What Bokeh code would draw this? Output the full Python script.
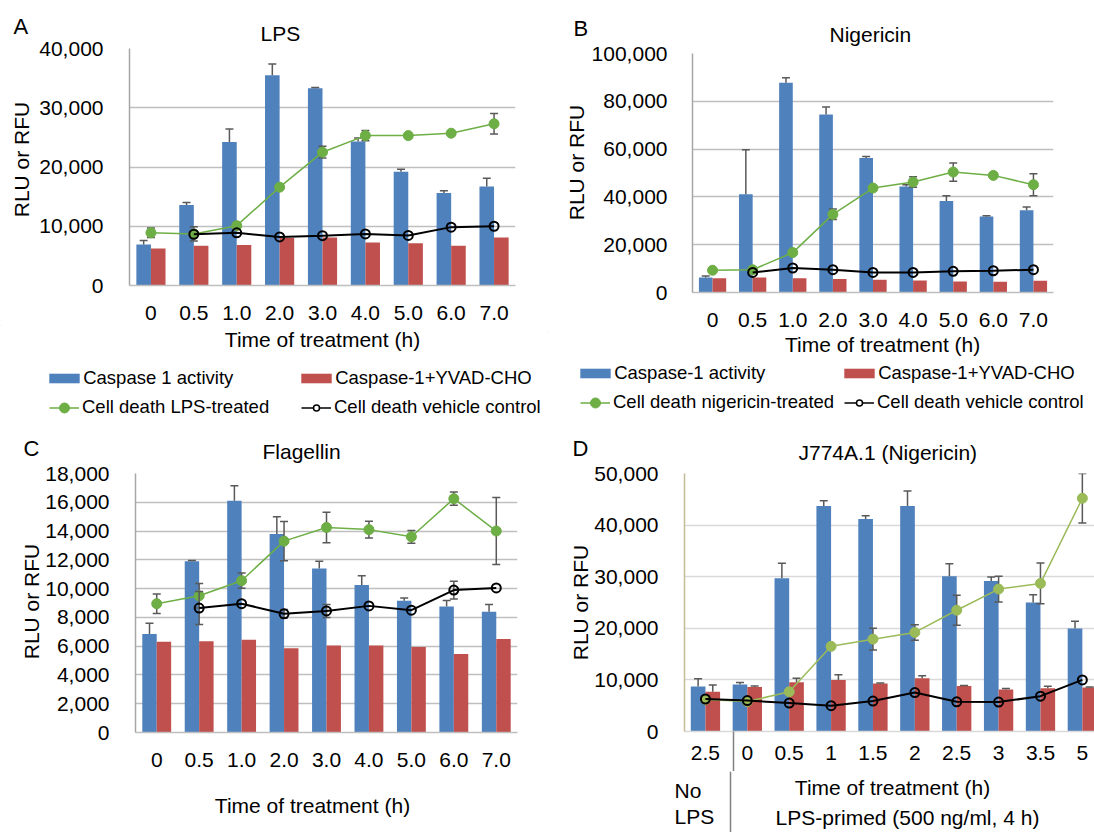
import math
import numpy as np
from bokeh.plotting import figure
from bokeh.models import (Legend, LegendItem, FixedTicker, NumeralTickFormatter, Range1d, Label)
from bokeh.layouts import row, column
from bokeh.embed import file_html
from bokeh.resources import INLINE

NAN = float("nan")
FONT = "Liberation Sans"
BLUE = "#4F81BD"
RED = "#C0504D"
GREEN = "#6DAE45"
GREEN_D = "#9BBB59"
ERR = "#595959"

# ---------------- Panel A: LPS ----------------
a_labels = ["0", "0.5", "1.0", "2.0", "3.0", "4.0", "5.0", "6.0", "7.0"]
a_casp = [6900, 13600, 24200, 35500, 33300, 24300, 19200, 15600, 16700]
a_casp_err = [700, 400, 2200, 1900, 100, 600, 400, 400, 1400]
a_yvad = [6250, 6700, 6850, 8000, 8100, 7250, 7150, 6700, 8100]
a_yvad_err = [0, 0, 0, 0, 0, 0, 0, 0, 0]
a_death = [8900, 8700, 10100, 16600, 22500, 25300, 25300, 25700, 27300]
a_death_err = [800, 1200, 300, 0, 1000, 850, 0, 0, 1750]
a_vehicle = [NAN, 8650, 8900, 8200, 8400, 8700, 8450, 9850, 10000]
a_vehicle_err = [0, 0, 0, 0, 0, 0, 0, 0, 0]

# ---------------- Panel B: Nigericin ----------------
b_labels = ["0", "0.5", "1.0", "2.0", "3.0", "4.0", "5.0", "6.0", "7.0"]
b_casp = [6300, 41100, 87800, 74500, 56300, 44300, 38300, 31800, 34400]
b_casp_err = [600, 18600, 2100, 3100, 600, 800, 2200, 300, 1400]
b_yvad = [6000, 6300, 6000, 5600, 5300, 5000, 4600, 4500, 4900]
b_yvad_err = [0, 0, 0, 0, 0, 0, 0, 0, 0]
b_death = [9300, 9500, 16700, 32700, 43700, 46200, 50400, 49000, 45100]
b_death_err = [0, 0, 0, 2200, 0, 2200, 3800, 0, 4600]
b_vehicle = [NAN, 8400, 10250, 9550, 8400, 8400, 8850, 9100, 9550]
b_vehicle_err = [0, 0, 0, 0, 0, 0, 0, 0, 0]

# ---------------- Panel C: Flagellin ----------------
c_labels = ["0", "0.5", "1.0", "2.0", "3.0", "4.0", "5.0", "6.0", "7.0"]
c_casp = [6850, 11900, 16100, 13800, 11400, 10250, 9150, 8750, 8400]
c_casp_err = [750, 50, 1050, 1200, 500, 650, 200, 420, 500]
c_yvad = [6300, 6350, 6450, 5850, 6050, 6050, 5950, 5450, 6500]
c_yvad_err = [0, 0, 0, 0, 0, 0, 0, 0, 0]
c_death = [8950, 9500, 10550, 13300, 14250, 14100, 13600, 16250, 14000]
c_death_err = [680, 850, 530, 1360, 1060, 590, 440, 460, 2330]
c_vehicle = [NAN, 8650, 8950, 8250, 8450, 8800, 8500, 9900, 10050]
c_vehicle_err = [0, 1150, 0, 300, 450, 0, 0, 620, 0]

# ---------------- Panel D: J774A.1 (Nigericin) ----------------
d_labels = ["2.5", "0", "0.5", "1", "1.5", "2", "2.5", "3", "3.5", "5"]
d_casp = [8700, 9100, 29700, 43700, 41200, 43700, 30100, 29150, 25000, 19950]
d_casp_err = [1500, 400, 2900, 1000, 600, 2900, 2400, 800, 1500, 1400]
d_yvad = [7700, 8600, 9550, 10000, 9300, 10300, 8800, 8150, 8400, 8550]
d_yvad_err = [1300, 200, 750, 1000, 100, 500, 100, 200, 350, 50]
d_death = [6200, 5800, 7700, 16500, 17900, 19200, 23500, 27600, 28700, 45200]
d_death_err = [0, 0, 0, 0, 2100, 1500, 2900, 2500, 3950, 4800]
d_vehicle = [6300, 6000, 5500, 5000, 5900, 7550, 5750, 5700, 6850, 10000]
d_vehicle_err = [0, 0, 0, 0, 0, 0, 0, 0, 0, 0]


def err_bars(p, xs, vals, errs, both=True, color=ERR):
    x, lo, hi = [], [], []
    for xi, v, e in zip(xs, vals, errs):
        if e and not math.isnan(v):
            x.append(float(xi))
            hi.append(v + e)
            lo.append(v - e if both else v)
    if not x:
        return
    p.segment(x0=x, y0=lo, x1=x, y1=hi, line_color=color, line_width=1.5)
    p.scatter(x=x, y=hi, marker="dash", size=8, line_color=color, line_width=1.5)
    if both:
        p.scatter(x=x, y=lo, marker="dash", size=8, line_color=color, line_width=1.5)


def set_title(f, text, offset, standoff, size):
    f.title.text = text
    f.title.align = "left"
    f.title.offset = offset
    f.title.standoff = standoff
    f.title.text_font = FONT
    f.title.text_font_size = size
    f.title.text_font_style = "normal"
    f.title.text_color = "black"


def textfig(x0, y0, w, h, top=0, bottom=0, title=None):
    """Figure whose data space is the page's pixel space (y downward)."""
    f = figure(width=w, height=h, x_range=Range1d(x0, x0 + w),
               y_range=Range1d(y0 + h - bottom, y0 + top),
               min_border_left=0, min_border_right=0, min_border_top=top, min_border_bottom=bottom,
               toolbar_location=None, output_backend="svg", x_axis_type=None, y_axis_type=None,
               title_location="above" if title else None)
    if title:
        text, tx, standoff = title
        set_title(f, text, tx - x0, standoff, "22px")
    f.outline_line_color = None
    f.background_fill_color = "white"
    f.border_fill_color = "white"
    return f


def txt(f, x, y, text, size="21px", align="center", baseline="middle", angle=0.0):
    f.add_layout(Label(x=x, y=y, text=text, text_font=FONT, text_font_size=size,
                       text_align=align, text_baseline=baseline, angle=angle, text_color="black"))


def legend_block(f, x0, y1, gcolor, labels, pos):
    """Four one-item legends in footer figure f (its swatch renderers sit outside the view)."""
    off = [-5000.0]
    rb = f.vbar(x=off, top=off, width=1, fill_color=BLUE, line_color=None)
    rr = f.vbar(x=off, top=off, width=1, fill_color=RED, line_color=None)
    gl = f.line(x=off, y=off, line_color=gcolor, line_width=1.5)
    gs = f.scatter(x=off, y=off, size=10, marker="circle", fill_color=gcolor, line_color=gcolor)
    kl = f.line(x=off, y=off, line_color="black", line_width=1.5)
    ks = f.scatter(x=off, y=off, size=8, marker="circle", fill_color="white", line_color="black", line_width=1.5)
    specs = [([rb], 38, 12, 0), ([rr], 38, 12, 0), ([gl, gs], 30, 25, 3), ([kl, ks], 30, 15, 3)]
    for (rends, gw, gh, so), text, (gx, gy) in zip(specs, labels, pos):
        H = max(gh, 22)
        L = Legend(items=[LegendItem(label=text, renderers=rends, index=0)],
                   location=(gx - x0, y1 - (gy + H / 2.0)),
                   orientation="vertical", glyph_width=gw, glyph_height=gh, label_height=22,
                   label_standoff=so, padding=0, margin=0, spacing=0,
                   border_line_color=None, background_fill_alpha=0,
                   label_text_font=FONT, label_text_font_size="18.5px", label_text_color="black")
        f.add_layout(L)


def plotfig(W, H, borders, labels, ymax, ystep, casp, casp_err, yvad, yvad_err,
            death, death_err, veh, veh_err, gcolor, xend, left_axis_color, grid_color,
            title, bw=0.34, minor=None, ystandoff=20):
    bl, br, bt, bb = borders
    n = len(labels)
    p = figure(width=W, height=H, output_backend="svg", toolbar_location=None, title_location="above",
               min_border_left=bl, min_border_right=br, min_border_top=bt, min_border_bottom=bb,
               x_range=Range1d(-0.5, xend), y_range=Range1d(0, ymax))
    text, offset, standoff = title
    set_title(p, text, offset, standoff, "21px")
    p.outline_line_color = None
    p.background_fill_color = "white"
    p.border_fill_color = "white"
    xs = np.arange(n)
    xb = xs - bw / 2
    xr = xs + bw / 2
    p.vbar(x=xb, top=casp, width=bw, fill_color=BLUE, line_color=None)
    p.vbar(x=xr, top=yvad, width=bw, fill_color=RED, line_color=None)
    err_bars(p, xb, casp, casp_err, both=False)
    err_bars(p, xr, yvad, yvad_err, both=False)
    err_bars(p, xs, death, death_err, both=True)
    p.line(xs, death, line_color=gcolor, line_width=1.5)
    p.scatter(xs, death, size=10, marker="circle", fill_color=gcolor, line_color=gcolor)
    err_bars(p, xs, veh, veh_err, both=True)
    p.line(xs, veh, line_color="black", line_width=2)
    p.scatter(xs, veh, size=9, marker="circle", fill_color=None, line_color="black", line_width=2)

    ticks_y = list(range(0, ymax + 1, ystep))
    p.xaxis.ticker = FixedTicker(ticks=list(range(n)), minor_ticks=minor or [])
    p.xaxis.major_label_overrides = {i: s for i, s in enumerate(labels)}
    p.yaxis.ticker = FixedTicker(ticks=ticks_y)
    p.yaxis.formatter = NumeralTickFormatter(format="0,0")
    for ax in (p.xaxis[0], p.yaxis[0]):
        ax.major_tick_line_color = None
        ax.minor_tick_line_color = None
        ax.major_label_text_font = FONT
        ax.major_label_text_font_size = "21px"
        ax.major_label_text_color = "black"
        ax.axis_line_width = 1.5
    p.xaxis.major_label_standoff = 14
    if minor:
        # long minor tick used as the group separator below the axis
        p.xaxis.minor_tick_line_color = "#808080"
        p.xaxis.minor_tick_line_width = 1.5
        p.xaxis.minor_tick_in = 0
        p.xaxis.minor_tick_out = 40
        p.xaxis.major_label_standoff = 14 - 40
    p.yaxis.major_label_standoff = ystandoff
    p.xaxis.axis_line_color = grid_color
    p.yaxis.axis_line_color = left_axis_color
    p.xgrid.visible = False
    p.ygrid.ticker = FixedTicker(ticks=ticks_y)
    p.ygrid.grid_line_color = grid_color
    p.ygrid.grid_line_width = 1.5
    return p


# ======== Panel A (page x 0-547, y 0-420); frame 124-515 x 48-285 ========
lA = textfig(0, 0, 36, 325, top=48, bottom=40, title=("A", 13, 20))
txt(lA, 21, 159, "RLU or RFU", angle=math.pi / 2)
pA = plotfig(511, 325, (88, 32, 48, 40), a_labels, 40000, 10000, a_casp, a_casp_err,
             a_yvad, a_yvad_err, a_death, a_death_err, a_vehicle, a_vehicle_err,
             GREEN, 8.5, "#A6A6A6", "#BFBFBF", ("LPS", 255 - 124, 8))
fA = textfig(0, 325, 547, 95)
txt(fA, 322, 339, "Time of treatment (h)")
legend_block(fA, 0, 420, GREEN,
             ["Caspase 1 activity", "Caspase-1+YVAD-CHO", "Cell death LPS-treated", "Cell death vehicle control"],
             [(49 - 3.8, 378), (301 - 3.8, 378), (49, 407), (301, 407)])
colA = column(row(lA, pA), fA)

# ======== Panel B (page x 547-1094, y 0-420); frame 683-1053 x 53-292 ========
lB = textfig(547, 0, 41, 332, top=53, bottom=40, title=("B", 573, 25))
txt(lB, 575.5, 162, "RLU or RFU", angle=math.pi / 2)
pB = plotfig(506, 332, (95, 41, 53, 40), b_labels, 100000, 20000, b_casp, b_casp_err,
             b_yvad, b_yvad_err, b_death, b_death_err, b_vehicle, b_vehicle_err,
             GREEN, 8.5, "#A6A6A6", "#BFBFBF", ("Nigericin", 820 - 683, 16), ystandoff=19)
fB = textfig(547, 332, 547, 88)
txt(fB, 885, 344, "Time of  treatment (h)")
legend_block(fB, 547, 420, GREEN,
             ["Caspase-1 activity", "Caspase-1+YVAD-CHO", "Cell death nigericin-treated", "Cell death vehicle control"],
             [(580 - 3.8, 373), (844 - 3.8, 373), (580, 402), (844, 402)])
colB = column(row(lB, pB), fB)

# ======== Panel C (page x 0-547, y 420-832); frame 128-517 x 473-732 ========
lC = textfig(0, 420, 42, 360, top=53, bottom=48, title=("C", 23, 25))
txt(lC, 31, 601, "RLU or RFU", angle=math.pi / 2)
pC = plotfig(505, 360, (86, 30, 53, 48), c_labels, 18000, 2000, c_casp, c_casp_err,
             c_yvad, c_yvad_err, c_death, c_death_err, c_vehicle, c_vehicle_err,
             GREEN, 8.5, "#A6A6A6", "#BFBFBF", ("Flagellin", 255 - 128, 22))
fC = textfig(0, 780, 547, 52)
txt(fC, 312, 805, "Time of treatment (h)")
colC = column(row(lC, pC), fC)

# ======== Panel D (page x 547-1094, y 420-832); frame 681-1094 x 473-731 ========
lD = textfig(547, 420, 44, 351, top=53, bottom=40, title=("D", 572, 25))
txt(lD, 580, 602, "RLU or RFU", angle=math.pi / 2)
pD = plotfig(503, 351, (90, 0, 53, 40), d_labels, 50000, 10000, d_casp, d_casp_err,
             d_yvad, d_yvad_err, d_death, d_death_err, d_vehicle, d_vehicle_err,
             GREEN_D, 9.29, "#C4BC96", "#D9D9D9", ("J774A.1 (Nigericin)", 795 - 681, 20),
             bw=0.35, minor=[0.66])
fD = textfig(547, 771, 547, 61)
txt(fD, 892, 787, "Time of treatment (h)")
txt(fD, 674, 790, "No", align="left")
txt(fD, 674, 816, "LPS", align="left")
txt(fD, 907, 817, "LPS-primed (500 ng/ml, 4 h)")
fD.segment(x0=[730], y0=[771], x1=[730], y1=[832], line_color="#808080", line_width=1.5)
colD = column(row(lD, pD), fD)

layout = column(row(colA, colB), row(colC, colD))
open("out.html", "w").write(file_html(layout, INLINE))
